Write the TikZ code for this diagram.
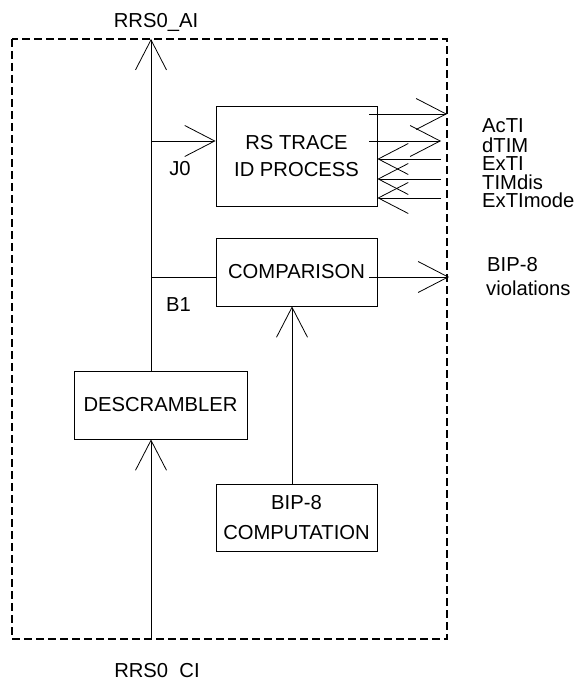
\documentclass[tikz,border=0pt]{standalone}
\usepackage{fontspec}
\setmainfont{Liberation Sans}
\usepackage{tikz}
\usetikzlibrary{calc,arrows.meta}
\tikzset{
  ar/.style={-{Straight Barb[length=30bp,width=31bp]},line width=0.8bp},
  box/.style={draw,line width=0.8bp,inner sep=0pt,align=center},
  frm/.style={line width=1.6bp,dash pattern=on 8bp off 4bp}
}

\begin{document}
\begin{tikzpicture}[x=1bp,y=-1bp,font=\fontsize{20.3}{27}\selectfont]
\useasboundingbox (0,0) rectangle (576,678);
\draw[frm] (12,39) rectangle (447,639);
\node[box,minimum width=161bp,minimum height=100bp] (rs) at (296.5,156) {RS TRACE\\ID PROCESS};
\node[box,minimum width=161bp,minimum height=68bp] (cmp) at (296.5,272) {COMPARISON};
\node[box,minimum width=173bp,minimum height=68bp] (dsc) at (160.5,405) {DESCRAMBLER};
\node[box,minimum width=161bp,minimum height=67bp] (bip) at (296.5,517.5) {BIP-8\\[3bp]COMPUTATION};
\coordinate (ai) at (151,39);
\coordinate (ci) at (151,639);
\coordinate (j0) at (151,141);
\coordinate (b1) at (151,277);
\draw[ar] (ci) -- (dsc.south -| ci);
\draw[ar] (dsc.north -| ci) -- (ai);
\draw[ar] (j0) -- (j0 -| rs.west);
\draw[line width=0.8bp] (b1) -- (b1 -| cmp.west);
\draw[ar] ([xshift=-4.5bp]bip.north) -- ([xshift=-4.5bp]cmp.south);
% signals of the trace process
\coordinate (rsx) at ([xshift=-8bp]rs.east);
\coordinate (cmpx) at ([xshift=-8bp]cmp.east);
\foreach \nm/\xa/\ya in {acti/447/114,dtim/441/141}{
  \coordinate (\nm) at (\xa,\ya);
  \draw[ar] (\nm -| rsx) -- (\nm);
}
\foreach \nm/\ya in {exti/159,timdis/179,extimode/198}{
  \coordinate (\nm) at (441,\ya);
  \draw[ar] (\nm) -- (\nm -| rs.east);
}
\coordinate (bipv) at (449,277);
\draw[ar] (bipv -| cmpx) -- (bipv);
% labels
\node[anchor=base] (aiL) at (156,28) {RRS0\_AI};
\node[anchor=base] (ciL) at (157,677.5) {RRS0\_CI};
\node[anchor=base] (j0L) at (180,175) {J0};
\node[anchor=base] (b1L) at (178.5,311) {B1};
\foreach \ya/\txt [count=\i] in {133/AcTI,152/dTIM,170/ExTI,189/TIMdis,207/ExTImode}
  \node[anchor=base west,inner sep=0pt] (sig\i) at (482,\ya) {\txt};
\node[anchor=base west,inner sep=0pt] (bipL) at (487,271) {BIP-8};
\node[anchor=base west,inner sep=0pt] (vioL) at (486,295) {violations};
\end{tikzpicture}
\end{document}
